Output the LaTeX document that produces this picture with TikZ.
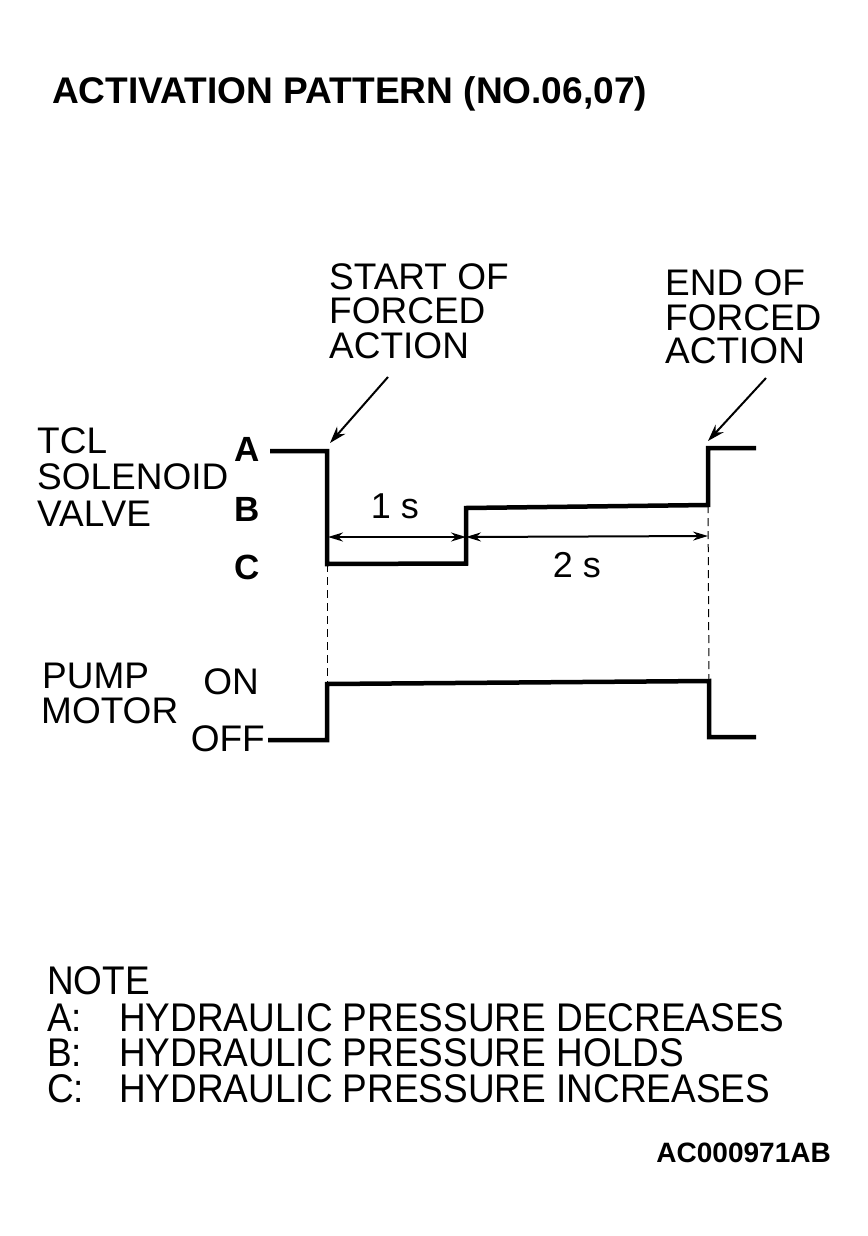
\documentclass[tikz,border=0pt]{standalone}
\usepackage{fontspec}
\setmainfont{Liberation Sans}
\usetikzlibrary{arrows.meta}
\tikzset{
  lbl/.style={inner sep=0pt, anchor=base west, text height=27pt, text depth=1pt, font=\fontsize{37}{37}\selectfont},
  lblr/.style={lbl, anchor=base east},
  lvl/.style={inner sep=0pt, anchor=base east, text height=26pt, text depth=1pt, font=\fontsize{35}{36}\selectfont\bfseries},
  note/.style={inner sep=0pt, anchor=base west, text height=29pt, text depth=1pt, font=\fontsize{40}{40}\selectfont, xscale=0.924},
  wave/.style={line width=4.5pt, line join=miter, line cap=butt},
  guide/.style={line width=1pt, dash pattern=on 8pt off 5pt},
  callout/.style={line width=2pt, -{Stealth[length=17pt, width=11pt]}},
  dim/.style={line width=2pt, {Stealth[length=15pt, width=9pt]}-{Stealth[length=15pt, width=9pt]}}
}
\begin{document}
\begin{tikzpicture}[x=1pt, y=-1pt]
\useasboundingbox (0,0) rectangle (867,1236);
\fill[white] (0,0) rectangle (867,1236);

% title
\node[inner sep=0pt, anchor=base west, font=\fontsize{37.1}{40}\selectfont\bfseries] (title) at (52,104) {ACTIVATION PATTERN (NO.06,07)};

% TCL labels
\node[lbl] (tcl1) at (37,453) {TCL};
\node[lbl] (tcl2) at (37,489) {SOLENOID};
\node[lbl] (tcl3) at (37,526) {VALVE};
\node[lvl] (la) at (260,461) {A};
\node[lvl] (lb) at (260,521) {B};
\node[lvl] (lc) at (260,579) {C};

% callout labels
\node[lbl] (s1) at (329,289) {START OF};
\node[lbl] (s2) at (329,323) {FORCED};
\node[lbl] (s3) at (329,358) {ACTION};
\node[lbl] (e1) at (665,295) {END OF};
\node[lbl] (e2) at (665,330) {FORCED};
\node[lbl] (e3) at (665,363) {ACTION};

% pump labels
\node[lbl] (p1) at (42,688) {PUMP};
\node[lbl] (p2) at (41,723) {MOTOR};
\node[lblr] (on) at (259,694) {ON};
\node[lblr] (off) at (265,751) {OFF};

% TCL waveform
\coordinate (t0) at (270,451);
\coordinate (t1) at (327,451);
\coordinate (t2) at (327,564);
\coordinate (t3) at (466,563.5);
\coordinate (t4) at (466,508);
\coordinate (t5) at (708,505);
\coordinate (t6) at (708,448);
\coordinate (t7) at (756,448);
\draw[wave] (t0) -- (t1) -- (t2) -- (t3) -- (t4) -- (t5) -- (t6) -- (t7);

% pump waveform
\coordinate (m0) at (268,740);
\coordinate (m1) at (327,740);
\coordinate (m2) at (327,684);
\coordinate (m3) at (709,681);
\coordinate (m4) at (709,737);
\coordinate (m5) at (756,737);
\draw[wave] (m0) -- (m1) -- (m2) -- (m3) -- (m4) -- (m5);

% guide lines
\draw[guide] (t2) -- (m2);
\draw[guide] (t5) -- (m3);

% dimensions
\coordinate (d0) at (328,537);
\coordinate (d1) at (466,537);
\coordinate (d2) at (708,536);
\draw[dim] (d0) -- (d1);
\draw[dim] (d1) -- (d2);
\node[inner sep=0pt, anchor=base, font=\fontsize{36}{36}\selectfont] (one) at (395,518) {1 s};
\node[inner sep=0pt, anchor=base, font=\fontsize{36}{36}\selectfont] (two) at (577,577) {2 s};

% callout arrows
\coordinate (sa) at (388,377);
\coordinate (sb) at (330,443);
\coordinate (ea) at (766,378);
\coordinate (eb) at (708,441);
\draw[callout] (sa) -- (sb);
\draw[callout] (ea) -- (eb);

% note
\node[note] (n0) at (47,994) {NOTE};
\node[note] (na) at (47,1031) {A:};
\node[note] (nb) at (47,1066) {B:};
\node[note] (nc) at (47,1102) {C:};
\node[note] (ta) at (119,1031) {HYDRAULIC PRESSURE DECREASES};
\node[note] (tb) at (119,1066) {HYDRAULIC PRESSURE HOLDS};
\node[note] (tc) at (119,1102) {HYDRAULIC PRESSURE INCREASES};

% code
\node[inner sep=0pt, anchor=base east, font=\fontsize{28}{30}\selectfont\bfseries] (code) at (831,1162) {AC000971AB};
\end{tikzpicture}
\end{document}
